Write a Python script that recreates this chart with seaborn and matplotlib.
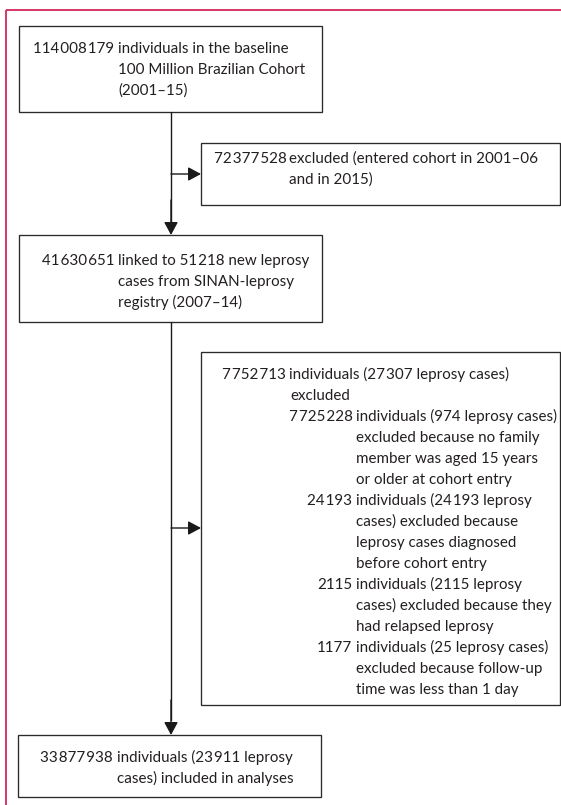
import matplotlib
matplotlib.use("Agg")
import matplotlib.pyplot as plt
import seaborn as sns
from matplotlib.patches import Rectangle

GAP = "\u200a"


def fmt(n):
    return f"{n:,}".replace(",", GAP)


# counts shown in the flow diagram
baseline_n = 114008179
entry_excluded_n = 72377528
linked_n = 41630651
linked_cases = 51218
excluded_total_n = 7752713
excluded_total_cases = 27307
no_adult_n = 7725228
no_adult_cases = 974
prior_diag_n = 24193
prior_diag_cases = 24193
relapse_n = 2115
relapse_cases = 2115
followup_n = 1177
followup_cases = 25
included_n = 33877938
included_cases = 23911

box1_lines = ["individuals in the baseline", "100 Million Brazilian Cohort", "(2001–15)"]
box2_lines = ["excluded (entered cohort in 2001–06", "and in 2015)"]
box3_lines = [f"linked to {fmt(linked_cases)} new leprosy", "cases from SINAN-leprosy",
              "registry (2007–14)"]
box4_head = [f"individuals ({fmt(excluded_total_cases)} leprosy cases)", "excluded"]
box4_subs = [
    (no_adult_n, [f"individuals ({no_adult_cases} leprosy cases)",
                  "excluded because no family", "member was aged 15 years",
                  "or older at cohort entry"]),
    (prior_diag_n, [f"individuals ({fmt(prior_diag_cases)} leprosy",
                    "cases) excluded because", "leprosy cases diagnosed",
                    "before cohort entry"]),
    (relapse_n, [f"individuals ({relapse_cases} leprosy",
                 "cases) excluded because they", "had relapsed leprosy"]),
    (followup_n, [f"individuals ({followup_cases} leprosy cases)",
                  "excluded because follow-up", "time was less than 1 day"]),
]
box5_lines = [f"individuals ({fmt(included_cases)} leprosy", "cases) included in analyses"]

sns.set_theme(style="white")
plt.rcParams["font.family"] = ["Lato", "DejaVu Sans"]

TXT = "#231f20"
EDGE = "#2a2a2a"
PINK = "#d6285a"
FS = 10.9
LH = 21

fig = plt.figure(figsize=(5.61, 8.05), dpi=100)
ax = fig.add_axes([0, 0, 1, 1])
ax.set_xlim(0, 561)
ax.set_ylim(805, 0)
ax.axis("off")

# page frame
ax.plot([6, 561], [10, 10], color=PINK, lw=1.3, solid_capstyle="butt")
ax.plot([6, 6], [10, 805], color=PINK, lw=1.3, solid_capstyle="butt")


def box(x0, y0, x1, y1):
    ax.add_patch(Rectangle((x0, y0), x1 - x0, y1 - y0, fill=False,
                           edgecolor=EDGE, lw=0.95))


def num_text(num):
    return fmt(num) if num >= 10000 else str(num)


def entry(num, lines, xnum, xtxt, y):
    ax.text(xnum, y, num_text(num), ha="right", va="baseline", fontsize=FS, color=TXT)
    for i, s in enumerate(lines):
        ax.text(xtxt, y + i * LH, s, ha="left", va="baseline", fontsize=FS, color=TXT)
    return y + len(lines) * LH


def arrow(x0, y0, x1, y1):
    ax.annotate("", xy=(x1, y1), xytext=(x0, y0),
                arrowprops=dict(arrowstyle="-|>,head_length=0.78,head_width=0.42",
                                color="#1a1a1a", lw=1.0, shrinkA=0, shrinkB=0,
                                mutation_scale=10))


box(19, 26, 322, 112)
entry(baseline_n, box1_lines, 114, 118.5, 53)

box(201, 143, 560, 205)
entry(entry_excluded_n, box2_lines, 286.5, 289.5, 163)

box(19, 235, 322, 322)
entry(linked_n, box3_lines, 115, 118.5, 265)

box(201, 352, 560, 705)
y = entry(excluded_total_n, box4_head[:1], 286, 289, 379)
ax.text(290, y, box4_head[1], ha="left", va="baseline", fontsize=FS, color=TXT)
y += LH
for n, lines in box4_subs:
    y = entry(n, lines, 352.5, 356, y)

box(18, 735, 321, 797)
entry(included_n, box5_lines, 113, 117.5, 762)

ax.plot([171, 171], [112, 230], color="#1a1a1a", lw=1.0)
arrow(171, 200, 171, 235)
arrow(171, 174, 201, 174)
ax.plot([171, 171], [322, 720], color="#1a1a1a", lw=1.0)
arrow(171, 700, 171, 735)
arrow(171, 528, 201, 528)

fig.savefig("out.png", dpi=100)
